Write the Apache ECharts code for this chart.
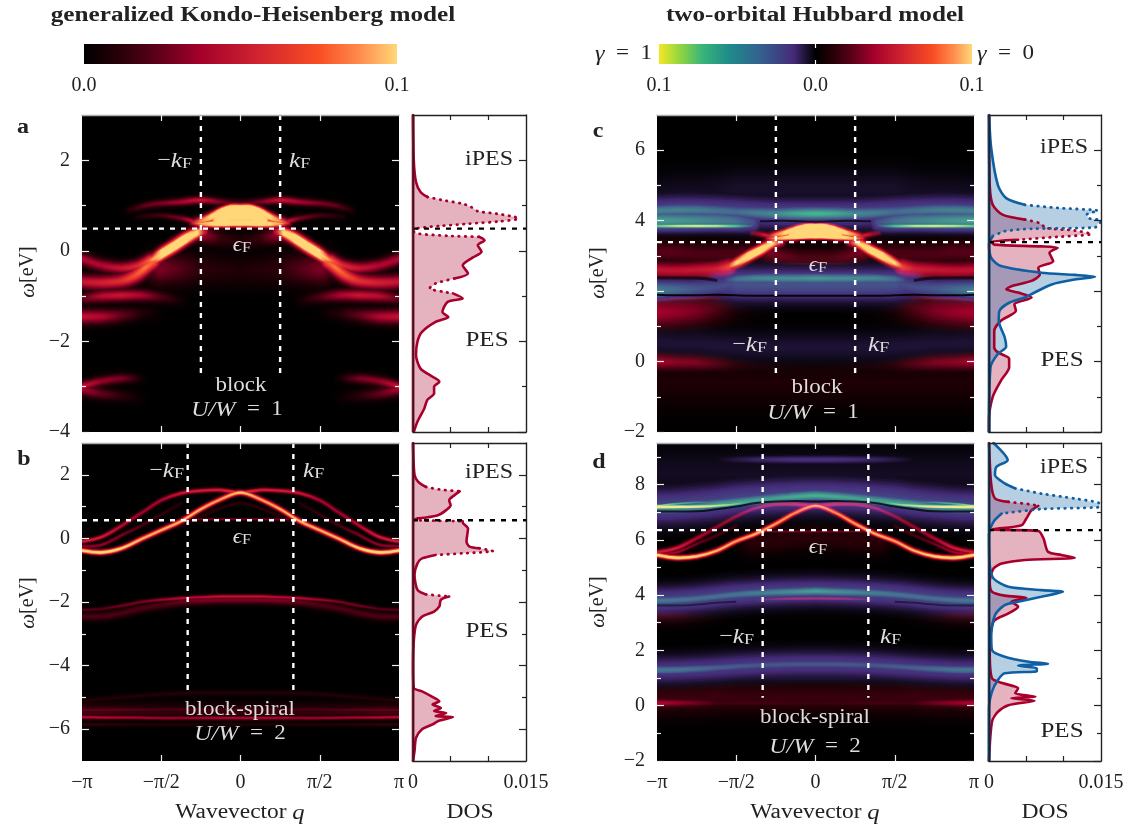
<!DOCTYPE html>
<html>
<head>
<meta charset="utf-8">
<script src="https://cdn.jsdelivr.net/npm/echarts@6/dist/echarts.min.js"></script>
<style>
  html, body { margin: 0; padding: 0; background: #fff; }
  #main { width: 1132px; height: 829px; }
</style>
</head>
<body>
<div id="main"></div>
<script>
  // q is in units of pi, only the left half is listed, bands are mirrored at q=0
  var Q = [-1, -0.875, -0.75, -0.625, -0.5, -0.375, -0.25, -0.125, 0];

  // colour stops, position 0..1 on the colour bar
  var gamma0Stops = [[0, '#000000'], [0.12, '#2a0008'], [0.25, '#64001b'], [0.37, '#a3002b'], [0.55, '#cf2230'], [0.75, '#f94d24'], [0.88, '#ff8b4c'], [1, '#ffd778']];
  var gamma1Stops = [[0, '#000000'], [0.14, '#452a78'], [0.35, '#34608f'], [0.55, '#1f8a8a'], [0.72, '#38b47a'], [0.87, '#93d63f'], [1, '#f5e625']];

  // panel a
  var aBlobUpQ = [-0.3, -0.25, -0.19, -0.125, -0.06, 0], aBlobUpW = [0.63, 0.66, 0.74, 0.85, 0.93, 0.93], aBlobUpI = [0.45, 0.9, 1.3, 1.8, 1.8, 1.8];
  var aBlobLowW = [0.62, 0.6, 0.6, 0.61, 0.62, 0.62], aBlobLowI = [0.55, 0.95, 1.25, 1.7, 1.8, 1.8];
  var aBlobMidQ = [-0.15, -0.125, -0.06, 0], aBlobMidW = [0.69, 0.72, 0.78, 0.78], aBlobMidI = [1.3, 1.8, 1.8, 1.8];
  var aArmQ = [-0.6, -0.55, -0.5, -0.42, -0.34, -0.27, -0.23], aArmW = [-0.25, -0.18, -0.07, 0.1, 0.28, 0.4, 0.42], aArmI = [0.6, 0.95, 1.6, 1.7, 1.6, 1.2, 0.55];
  var aLow1Q = [-1, -0.875, -0.75, -0.67, -0.6, -0.55], aLow1W = [-0.68, -0.7, -0.66, -0.55, -0.37, -0.25], aLow1I = [0.5, 0.55, 0.62, 0.75, 0.85, 0.8];
  var aLow2Q = [-1, -0.875, -0.75, -0.65, -0.57], aLow2W = [-0.18, -0.32, -0.38, -0.33, -0.2], aLow2I = [0.42, 0.42, 0.5, 0.6, 0.8];
  var aTopQ = [-0.7, -0.6, -0.5, -0.375, -0.25, -0.125, 0], aTopW = [0.9, 1, 1.05, 1.08, 1.12, 1.08, 1.05], aTopI = [0.1, 0.25, 0.3, 0.4, 0.5, 0.3, 0.2];
  var aTop2Q = [-0.65, -0.5, -0.375, -0.3], aTop2W = [0.75, 0.78, 0.72, 0.65], aTop2I = [0.08, 0.18, 0.3, 0.5];
  var aM1Q = [-1, -0.875, -0.75, -0.625, -0.5, -0.375], aM1W = [-1.05, -1, -0.98, -0.98, -1.02, -1.1], aM1I = [0.25, 0.45, 0.5, 0.4, 0.2, 0.05];
  var aM2Q = [-1, -0.875, -0.75, -0.625, -0.5], aM2W = [-1.45, -1.45, -1.42, -1.38, -1.35], aM2I = [0.48, 0.42, 0.25, 0.1, 0.02];
  var aB1Q = [-1, -0.875, -0.75, -0.625], aB1W = [-3, -2.88, -2.82, -2.82], aB1I = [0.5, 0.35, 0.3, 0.05];
  var aB2W = [-3.05, -3.15, -3.2, -3.25], aB2I = [0.4, 0.25, 0.12, 0.03];
  var aRipQ = [-0.25, -0.125, 0], aRipW = [0.38, 0.28, 0.2], aRipI = [0.4, 0.15, 0.1];
  var aDiffQ = [-0.5, -0.25, 0], aDiffW = [-0.4, -0.4, -0.45], aDiffI = [0.3, 0.12, 0.08];

  // panel b
  var bMainW = [-0.38, -0.44, -0.31, -0.02, 0.26, 0.54, 0.92, 1.23, 1.44], bMainI = [1.15, 1.2, 1.1, 1, 0.98, 1, 0.98, 0.95, 1.05];
  var bUpW = [-0.1, 0.05, 0.4, 0.8, 1.2, 1.42, 1.5, 1.52, 1.44], bUpI = [0.55, 0.55, 0.45, 0.38, 0.42, 0.52, 0.55, 0.55, 0.7];
  var bMidQ = [-1, -0.875, -0.75, -0.625, -0.5, -0.375], bMidW = [-0.25, -0.2, 0.1, 0.4, 0.75, 1.1], bMidI = [0.35, 0.35, 0.3, 0.2, 0.15, 0.1];
  var bFermiQ = [-0.3, -0.2, -0.1, 0], bFermiW = [0.6, 0.6, 0.6, 0.6], bFermiI = [0.3, 0.3, 0.3, 0.3];
  var bFanQ = [-0.4, -0.2, 0], bFanW = [0.35, 0.8, 1.1], bFanI = [0.1, 0.12, 0.12];
  var bM1W = [-2.25, -2.22, -2.12, -2, -1.93, -1.88, -1.85, -1.83, -1.83], bM1I = [0.22, 0.22, 0.28, 0.3, 0.38, 0.45, 0.45, 0.5, 0.5];
  var bM2W = [-2.45, -2.45, -2.35, -2.2, -2.1, -2, -1.95, -1.93, -1.93], bM2I = [0.2, 0.2, 0.2, 0.2, 0.2, 0.25, 0.3, 0.3, 0.3];
  var bL0W = [-5.1, -5.05, -5, -4.95, -4.9, -4.87, -4.86, -4.86, -4.86], bL0I = [0.1, 0.1, 0.1, 0.1, 0.1, 0.1, 0.1, 0.1, 0.1];
  var bL1W = [-5.4, -5.4, -5.39, -5.39, -5.38, -5.38, -5.38, -5.38, -5.38], bL1I = [0.25, 0.25, 0.25, 0.22, 0.2, 0.2, 0.2, 0.2, 0.2];
  var bL2W = [-5.62, -5.63, -5.63, -5.64, -5.65, -5.65, -5.65, -5.65, -5.65], bL2I = [0.45, 0.45, 0.42, 0.4, 0.38, 0.38, 0.4, 0.42, 0.42];
  var bL3W = [-5.45, -5.45, -5.45, -5.45, -5.45, -5.45, -5.45, -5.45, -5.45], bL3I = [0.18, 0.18, 0.16, 0.15, 0.14, 0.14, 0.14, 0.14, 0.14];
  var bL4W = [-5.85, -5.85, -5.85, -5.85, -5.85, -5.85, -5.85, -5.85, -5.85], bL4I = [0.14, 0.14, 0.12, 0.1, 0.1, 0.1, 0.1, 0.1, 0.1];

  // panel c, negative intensity is gamma=1 weight
  var cR0W = [-0.6, -0.6, -0.6, -0.6, -0.6, -0.6, -0.6, -0.6, -0.6], cR0I = [0.08, 0.08, 0.08, 0.08, 0.08, 0.08, 0.08, 0.08, 0.08];
  var cR1Q = [-1, -0.875, -0.75, -0.625, -0.5, -0.375, -0.25, 0], cR1W = [0, -0.02, -0.03, -0.06, -0.1, -0.15, -0.2, -0.25], cR1I = [0.38, 0.32, 0.3, 0.22, 0.12, 0.08, 0.07, 0.06];
  var cP0W = [0.55, 0.5, 0.5, 0.45, 0.42, 0.4, 0.4, 0.4, 0.4], cP0I = [-0.06, -0.06, -0.06, -0.06, -0.06, -0.06, -0.06, -0.06, -0.06];
  var cR2Q = [-1, -0.875, -0.75, -0.625, -0.5, -0.375], cR2W = [1.4, 1.42, 1.45, 1.5, 1.55, 1.6], cR2I = [0.38, 0.35, 0.3, 0.2, 0.08, 0.03];
  var cR3Q = [-1, -0.875, -0.75, -0.625, -0.5], cR3W = [1.72, 1.78, 1.8, 1.8, 1.78], cR3I = [0.3, 0.3, 0.3, 0.22, 0.1];
  var cB1Q = [-1, -0.875, -0.75, -0.625, -0.55], cB1W = [2.03, 2.05, 2.07, 2.12, 2.18], cB1I = [-0.5, -0.4, -0.32, -0.28, -0.28];
  var cB2Q = [-0.6, -0.5, -0.375, -0.25, -0.125, 0], cB2W = [2.2, 2.2, 2.2, 2.2, 2.2, 2.2], cB2I = [-0.2, -0.3, -0.3, -0.3, -0.3, -0.3];
  var cB3Q = [-0.55, -0.5, -0.375, -0.25, -0.125, 0], cB3W = [2.32, 2.34, 2.36, 2.36, 2.36, 2.36], cB3I = [-0.3, -0.45, -0.55, -0.58, -0.58, -0.62];
  var cRed26Q = [-1, -0.875, -0.75, -0.625, -0.55], cRed26W = [2.6, 2.58, 2.6, 2.62, 2.68], cRed26I = [0.48, 0.48, 0.5, 0.55, 0.7];
  var cDarkQ = [-1, -0.875, -0.75, -0.625, -0.5, -0.4], cDarkW = [3.1, 3.1, 3.05, 3.05, 3.05, 3.1], cDarkI = [0.22, 0.22, 0.2, 0.2, 0.2, 0.2];
  var cRipQ = [-0.3, -0.2, -0.1, 0], cRipW = [3.1, 3, 2.95, 2.95], cRipI = [0.3, 0.25, 0.2, 0.2];
  var cLineQ = [-0.3, -0.15, 0], cLineW = [2.78, 2.78, 2.78], cLineI = [0.1, 0.2, 0.25];
  var cArmQ = [-0.55, -0.5, -0.42, -0.34, -0.27, -0.22], cArmW = [2.7, 2.8, 3, 3.18, 3.35, 3.38], cArmI = [0.7, 1.1, 1.6, 1.5, 1.1, 0.55];
  var cHazeW = [4.7, 4.8, 4.8, 4.85, 4.9, 4.9, 4.9, 4.9, 4.9], cHazeI = [-0.04, -0.04, -0.04, -0.04, -0.05, -0.05, -0.05, -0.05, -0.05];
  var cT1W = [4.28, 4.3, 4.3, 4.28, 4.25, 4.22, 4.2, 4.2, 4.2], cT1I = [-0.52, -0.52, -0.5, -0.45, -0.42, -0.5, -0.55, -0.68, -0.75];
  var cT1WideI = [-0.25, -0.25, -0.25, -0.25, -0.25, -0.25, -0.25, -0.25, -0.25];
  var cT2Q = [-1, -0.875, -0.75, -0.625, -0.5, -0.4], cT2W = [4, 4, 4, 4, 3.98, 3.95], cT2I = [-0.65, -0.62, -0.58, -0.52, -0.45, -0.3];
  var cYelW = [3.85, 3.85, 3.85, 3.85, 3.85, 3.86], cYelI = [-0.85, -1, -1.05, -1, -0.8, -0.35];
  var cBlobUpW = [3.56, 3.6, 3.66, 3.74, 3.82, 3.82], cBlobLowW = [3.5, 3.5, 3.52, 3.55, 3.57, 3.57], cBlobMidW = [3.6, 3.63, 3.69, 3.7];
  var cWingQ = [-0.4, -0.33, -0.26], cWingW = [3.65, 3.6, 3.52], cWingI = [0.3, 0.5, 0.6];
  // black gaps between orbital weights
  var cGap1W = [1.9, 1.88, 1.88, 1.9, 1.88, 1.87, 1.87, 1.87, 1.87];
  var cGap2Q = [-1, -0.875, -0.75, -0.62], cGap2W = [2.38, 2.38, 2.37, 2.3];
  var cGap3Q = [-0.35, -0.2, 0], cGap3W = [3.98, 4, 3.97];

  // panel d
  var dHazeW = [8.4, 8.4, 8.4, 8.4, 8.4, 8.4, 8.4, 8.4, 8.4], dHazeI = [-0.04, -0.04, -0.04, -0.04, -0.04, -0.04, -0.04, -0.04, -0.04];
  var dP1Q = [-0.625, -0.5, -0.375, -0.25, -0.125, 0], dP1W = [8.9, 8.9, 8.9, 8.9, 8.9, 8.9], dP1I = [-0.03, -0.08, -0.12, -0.14, -0.16, -0.16];
  var dTealWideW = [7.2, 7.22, 7.28, 7.35, 7.45, 7.5, 7.55, 7.58, 7.6], dTealWideI = [-0.25, -0.25, -0.25, -0.25, -0.25, -0.25, -0.25, -0.25, -0.25];
  var dTealW = [7.1, 7.12, 7.18, 7.28, 7.35, 7.43, 7.5, 7.56, 7.6], dTealI = [-0.45, -0.55, -0.6, -0.65, -0.65, -0.65, -0.65, -0.7, -0.72];
  var dY1Q = [-1, -0.875, -0.75, -0.625, -0.5, -0.4], dY1W = [7.19, 7.19, 7.2, 7.23, 7.3, 7.38], dY1I = [-1.4, -1.3, -1.15, -1, -0.85, -0.6];
  var dY2Q = [-1, -0.875, -0.75, -0.625], dY2W = [7.22, 7.3, 7.35, 7.36], dY2I = [-1, -0.8, -0.6, -0.4];
  var dRedW = [5.55, 5.7, 6.05, 6.45, 6.85, 7.15, 7.28, 7.28, 7.22], dRedI = [0.55, 0.55, 0.42, 0.35, 0.38, 0.45, 0.5, 0.55, 0.7];
  var dMidQ = [-1, -0.875, -0.75, -0.625, -0.5], dMidW = [5.5, 5.55, 5.85, 6.15, 6.5], dMidI = [0.4, 0.4, 0.28, 0.2, 0.15];
  var dMainW = [5.45, 5.35, 5.4, 5.6, 5.95, 6.22, 6.58, 6.98, 7.23], dMainI = [1.15, 1.2, 1.1, 1, 0.95, 1, 0.95, 0.92, 1];
  var dFanQ = [-0.4, -0.2, 0], dFanW = [5.9, 6, 6.1], dFanI = [0.12, 0.12, 0.12];
  var dFermiQ = [-0.3, -0.15, 0], dFermiW = [6.3, 6.3, 6.3], dFermiI = [0.3, 0.3, 0.3];
  var dT4W = [3.8, 3.82, 3.87, 3.95, 4.02, 4.07, 4.1, 4.12, 4.14], dT4WideI = [-0.25, -0.25, -0.25, -0.25, -0.25, -0.25, -0.25, -0.25, -0.25], dT4I = [-0.48, -0.46, -0.44, -0.44, -0.46, -0.5, -0.55, -0.6, -0.66];
  var dRed38Q = [-0.45, -0.3, -0.15, 0], dRed38W = [3.76, 3.84, 3.87, 3.88], dRed38I = [0.1, 0.3, 0.4, 0.4];
  var dRed34W = [3.35, 3.35, 3.38, 3.42, 3.5, 3.5, 3.5, 3.5, 3.5], dRed34I = [0.2, 0.18, 0.12, 0.06, 0.03, 0.02, 0.02, 0.02, 0.02];
  var dP2W = [1.29, 1.3, 1.33, 1.37, 1.42, 1.46, 1.48, 1.5, 1.5], dP2WideI = [-0.2, -0.2, -0.2, -0.2, -0.2, -0.2, -0.2, -0.2, -0.2], dP2I = [-0.48, -0.46, -0.42, -0.36, -0.34, -0.32, -0.32, -0.32, -0.32];
  var dP4W = [1, 1, 1, 1, 1.05, 1.05, 1.05, 1.05, 1.05], dP4I = [-0.07, -0.07, -0.07, -0.07, -0.07, -0.07, -0.07, -0.07, -0.07];
  var dR0W = [0.2, 0.25, 0.25, 0.3, 0.3, 0.3, 0.3, 0.3, 0.3], dR0I = [0.16, 0.16, 0.16, 0.16, 0.15, 0.15, 0.15, 0.15, 0.15];
  var dR1Q = [-1, -0.875, -0.75, -0.625, -0.5, -0.375, -0.25, 0], dR1W = [0.1, 0.1, 0.1, 0.1, 0.1, 0.1, 0.1, 0.1], dR1I = [0.42, 0.35, 0.28, 0.18, 0.18, 0.18, 0.18, 0.16];
  var dGap1W = [7.02, 7.02, 7.03, 7.1, 7.2, 7.33, 7.38, 7.4, 7.38];
  var dGap2Q = [-1, -0.875, -0.75, -0.625, -0.5], dGap2W = [3.62, 3.62, 3.66, 3.72, 3.76];

  // DOS curves
  var dosAW = [3, 2, 1.52, 1.3, 1.19, 1.12, 1.04, 0.97, 0.875, 0.82, 0.75, 0.71, 0.65, 0.6, 0.55, 0.49, 0.43, 0.38, 0.33, 0.31, 0.235, 0.125, -0.02, -0.15, -0.32, -0.5, -0.61, -0.72, -0.83, -0.9, -0.94, -1.05, -1.125, -1.35, -1.46, -1.57, -1.79, -2, -2.3, -2.6, -2.78, -2.89, -3, -3.15, -3.29, -3.48, -3.77, -4];
  var dosAD = [0, 0.0001, 0.0004, 0.001, 0.0019, 0.0039, 0.0066, 0.0077, 0.0086, 0.0111, 0.0135, 0.014, 0.0115, 0.0075, 0.0035, 0.0004, 0.0001, 0.0006, 0.0048, 0.0088, 0.0095, 0.0086, 0.0091, 0.0079, 0.0066, 0.0073, 0.0055, 0.003, 0.0022, 0.0039, 0.0053, 0.0066, 0.0046, 0.0039, 0.0047, 0.003, 0.0012, 0.0006, 0.0004, 0.001, 0.0026, 0.0035, 0.0028, 0.0028, 0.0019, 0.0015, 0.0006, 0.0001];
  var dosBW = [3, 2, 1.78, 1.62, 1.54, 1.48, 1.36, 1.2, 1.04, 0.89, 0.73, 0.65, 0.63, 0.57, 0.54, 0.5, 0.31, -0.1, -0.26, -0.31, -0.4, -0.47, -0.52, -0.63, -0.78, -1.15, -1.62, -1.76, -1.8, -1.83, -1.93, -2.14, -2.3, -2.46, -2.72, -3.24, -3.97, -4.7, -4.81, -4.96, -5.12, -5.22, -5.33, -5.43, -5.49, -5.59, -5.62, -5.75, -5.85, -6, -6.27, -6.69, -7];
  var dosBD = [0, 0.0002, 0.0007, 0.0017, 0.0035, 0.0062, 0.0055, 0.0048, 0.005, 0.0044, 0.0033, 0.0015, 0.0006, 0.0001, 0.0066, 0.0066, 0.0073, 0.0071, 0.0075, 0.0088, 0.0106, 0.0066, 0.003, 0.0012, 0.0006, 0.0002, 0.0006, 0.0017, 0.0035, 0.0048, 0.0037, 0.0035, 0.0028, 0.0012, 0.0004, 0.0001, 0, 0.0001, 0.0012, 0.0024, 0.0035, 0.0026, 0.0037, 0.0028, 0.0044, 0.003, 0.0053, 0.0033, 0.0026, 0.0012, 0.0004, 0.0002, 0];
  var dosCRedW = [7, 5, 4.45, 4.17, 4.03, 3.93, 3.79, 3.72, 3.62, 3.54, 3.46, 3.4, 3.32, 3.27, 3.23, 3.09, 2.85, 2.66, 2.47, 2.29, 2.14, 2.05, 1.96, 1.82, 1.63, 1.44, 1.16, 0.87, 0.4, 0.26, 0.08, -0.16, -0.54, -1, -1.67, -2];
  var dosCRedD = [0, 0.0001, 0.0005, 0.0018, 0.0048, 0.0068, 0.0077, 0.0115, 0.0137, 0.0092, 0.0039, 0.0003, 0.0007, 0.007, 0.0092, 0.0081, 0.0086, 0.0066, 0.0068, 0.0057, 0.003, 0.0023, 0.0039, 0.0057, 0.0034, 0.0036, 0.0016, 0.0007, 0.0007, 0.0012, 0.0027, 0.0027, 0.0016, 0.0005, 0, 0];
  var dosCBlueW = [7, 6.05, 5, 4.64, 4.45, 4.36, 4.28, 4.17, 4.07, 4, 3.81, 3.77, 3.7, 3.56, 3.32, 2.94, 2.71, 2.52, 2.46, 2.41, 2.33, 2.19, 1.96, 1.82, 1.67, 1.44, 1.16, 0.69, 0.42, 0.22, -0.16, -2];
  var dosCBlueD = [0, 0.0003, 0.0012, 0.0023, 0.0048, 0.0092, 0.0146, 0.0131, 0.0133, 0.015, 0.0142, 0.0057, 0.0021, 0.0005, 0, 0.0003, 0.0016, 0.007, 0.0115, 0.0142, 0.0115, 0.0084, 0.0061, 0.0048, 0.0027, 0.0014, 0.0013, 0.0021, 0.0023, 0.0012, 0.0002, 0];
  var dosDRedW = [9.5, 8, 7.5, 7.37, 7.29, 7.23, 7.07, 6.77, 6.53, 6.43, 6.37, 6.32, 6.05, 5.57, 5.45, 5.35, 5.27, 5.14, 4.96, 4.48, 4.12, 3.98, 3.9, 3.76, 3.58, 3.34, 3.04, 1.95, 0.99, 0.81, 0.63, 0.45, 0.33, 0.27, 0.18, 0.02, -0.22, -0.58, -2];
  var dosDRedD = [0, 0.0003, 0.0008, 0.0026, 0.0053, 0.0066, 0.0057, 0.005, 0.0044, 0.0021, 0.0001, 0.0066, 0.0073, 0.0079, 0.0097, 0.0115, 0.0048, 0.0017, 0.0006, 0.0001, 0.0004, 0.0021, 0.005, 0.003, 0.0039, 0.0026, 0.0006, 0.0001, 0.0004, 0.0019, 0.0039, 0.0035, 0.0062, 0.003, 0.0061, 0.0026, 0.0012, 0.0004, 0];
  var dosDBlueW = [9.5, 8.88, 8.64, 8.34, 8.04, 7.86, 7.67, 7.49, 7.31, 7.19, 7.11, 6.95, 6.65, 6.17, 5.08, 4.6, 4.3, 4.18, 4.12, 3.94, 3.76, 3.64, 3.28, 2.55, 2.01, 1.77, 1.59, 1.52, 1.45, 1.35, 1.25, 1.17, 0.93, 0.51, -0.1, -2];
  var dosDBlueD = [0.0006, 0.0025, 0.001, 0.0008, 0.0021, 0.0035, 0.007, 0.0115, 0.0148, 0.0148, 0.007, 0.0017, 0.0006, 0, 0.0001, 0.0006, 0.0026, 0.007, 0.0099, 0.007, 0.0039, 0.0021, 0.0008, 0.0003, 0.0004, 0.0021, 0.0053, 0.0079, 0.0039, 0.0064, 0.0064, 0.0021, 0.0012, 0.0004, 0, 0];

  // tick labels
  var qTicks = [-0.5, 0, 0.5];
  var qLabels = [-1, -0.5, 0, 0.5, 1];
  var qNames = { '-1': '−π', '-0.5': '−π/2', '0': '0', '0.5': 'π/2', '1': 'π' };
  var dosTicks = [0.005, 0.01];
  var dosLabels = [0, 0.015];

  var RED = '#a8002d', BLUE = '#0f5fa3', NAVY = '#0b3f78';
  var SERIF = '"Liberation Serif", "DejaVu Serif", serif';
  var GLOW_STEPS = 14;

  // [q, omega, intensity, width px]
  var panels = [
    {
      name: 'a', left: 82, top: 115, h: 317, dosLeft: 413, dosW: 113, wMin: -4, wMax: 3,
      major: [-4, -2, 0, 2], minor: [-3, -1, 1], kF: 0.25, kEnd: -2.76, ef: 0.49,
      bands: [
        [aDiffQ, aDiffW, aDiffI, 26], [aM2Q, aM2W, aM2I, 12], [aM1Q, aM1W, aM1I, 10], [aB1Q, aB2W, aB2I, 10], [aB1Q, aB1W, aB1I, 8],
        [aRipQ, aRipW, aRipI, 14], [aTopQ, aTopW, aTopI, 6], [aTop2Q, aTop2W, aTop2I, 5],
        [aLow2Q, aLow2W, aLow2I, 10], [aLow1Q, aLow1W, aLow1I, 12], [aArmQ, aArmW, aArmI, 9],
        [aBlobUpQ, aBlobUpW, aBlobUpI, 7], [aBlobUpQ, aBlobLowW, aBlobLowI, 6], [aBlobMidQ, aBlobMidW, aBlobMidI, 10]
      ],
      gaps: [],
      dos: [{ w: dosAW, d: dosAD, color: RED, fill: 'rgba(168,0,45,0.3)', dots: [[0.31, 1.19], [-0.94, -0.61]] }],
      base: RED
    },
    {
      name: 'b', left: 82, top: 443, h: 318, dosLeft: 413, dosW: 113, wMin: -7, wMax: 3,
      major: [-6, -4, -2, 0, 2], minor: [-5, -3, -1, 1], kF: 1 / 3, kEnd: -4.87, ef: 0.57,
      bands: [
        [Q, bL3W, bL3I, 14], [Q, bL0W, bL0I, 4], [Q, bL4W, bL4I, 3], [Q, bL1W, bL1I, 3], [Q, bL2W, bL2I, 3],
        [Q, bM2W, bM2I, 7], [Q, bM1W, bM1I, 3],
        [bFanQ, bFanW, bFanI, 3], [bFermiQ, bFermiW, bFermiI, 2], [bMidQ, bMidW, bMidI, 3], [Q, bUpW, bUpI, 3.5], [Q, bMainW, bMainI, 4]
      ],
      gaps: [],
      dos: [{ w: dosBW, d: dosBD, color: RED, fill: 'rgba(168,0,45,0.3)', dots: [[1.48, 1.62], [0.54, 0.57], [-0.52, -0.31], [-1.83, -1.76]] }],
      base: RED
    },
    {
      name: 'c', left: 657, top: 115, h: 317, dosLeft: 989, dosW: 112, wMin: -2, wMax: 7,
      major: [-2, 0, 2, 4, 6], minor: [-1, 1, 3, 5], kF: 0.25, kEnd: -0.48, ef: 3.39,
      bands: [
        [Q, cR0W, cR0I, 40], [cR1Q, cR1W, cR1I, 14], [Q, cP0W, cP0I, 24], [cR2Q, cR2W, cR2I, 26], [cR3Q, cR3W, cR3I, 5],
        [cB2Q, cB2W, cB2I, 24], [cB1Q, cB1W, cB1I, 14], [cB3Q, cB3W, cB3I, 8],
        [cDarkQ, cDarkW, cDarkI, 20], [cRipQ, cRipW, cRipI, 16], [cRed26Q, cRed26W, cRed26I, 14], [cLineQ, cLineW, cLineI, 2], [cArmQ, cArmW, cArmI, 8],
        [Q, cHazeW, cHazeI, 30], [Q, cT1W, cT1WideI, 22], [Q, cT1W, cT1I, 10], [cT2Q, cT2W, cT2I, 14], [cT2Q, cYelW, cYelI, 3.5],
        [cWingQ, cWingW, cWingI, 5], [aBlobUpQ, cBlobUpW, aBlobUpI, 6], [aBlobUpQ, cBlobLowW, aBlobLowI, 5], [aBlobMidQ, cBlobMidW, aBlobMidI, 9]
      ],
      gaps: [[Q, cGap1W, 2, 0.9], [cGap2Q, cGap2W, 3, 0.6], [cGap3Q, cGap3W, 2, 0.7]],
      dos: [
        { w: dosCRedW, d: dosCRedD, color: RED, fill: 'rgba(168,0,45,0.3)', dots: [[3.46, 4.03]] },
        { w: dosCBlueW, d: dosCBlueD, color: BLUE, fill: 'rgba(15,95,163,0.3)', dots: [[3.56, 4.45]] }
      ],
      base: NAVY
    },
    {
      name: 'd', left: 657, top: 443, h: 318, dosLeft: 989, dosW: 112, wMin: -2, wMax: 9.5,
      major: [-2, 0, 2, 4, 6, 8], minor: [-1, 1, 3, 5, 7, 9], kF: 1 / 3, kEnd: 0.29, ef: 6.35,
      bands: [
        [Q, dHazeW, dHazeI, 40], [dP1Q, dP1W, dP1I, 6], [Q, dTealWideW, dTealWideI, 26], [Q, dTealW, dTealI, 8],
        [dFanQ, dFanW, dFanI, 20], [dFermiQ, dFermiW, dFermiI, 2], [dMidQ, dMidW, dMidI, 3], [Q, dRedW, dRedI, 4], [Q, dMainW, dMainI, 4],
        [dY2Q, dY2W, dY2I, 2], [dY1Q, dY1W, dY1I, 3.5],
        [Q, dRed34W, dRed34I, 16], [Q, dT4W, dT4WideI, 20], [Q, dT4W, dT4I, 7], [dRed38Q, dRed38W, dRed38I, 3],
        [Q, dP4W, dP4I, 10], [Q, dP2W, dP2WideI, 20], [Q, dP2W, dP2I, 7], [Q, dR0W, dR0I, 26], [dR1Q, dR1W, dR1I, 7]
      ],
      gaps: [[Q, dGap1W, 2, 0.75], [dGap2Q, dGap2W, 2, 0.45]],
      dos: [
        { w: dosDRedW, d: dosDRedD, color: RED, fill: 'rgba(168,0,45,0.3)', dots: [[7.23, 7.37]] },
        { w: dosDBlueW, d: dosDBlueD, color: BLUE, fill: 'rgba(15,95,163,0.3)', dots: [[6.95, 7.86]] }
      ],
      base: NAVY
    }
  ];

  function hexRgb(h) {
    return [parseInt(h.substr(1, 2), 16), parseInt(h.substr(3, 2), 16), parseInt(h.substr(5, 2), 16)];
  }
  // intensity to colour, sign picks the orbital
  function cmap(v) {
    var stops = v < 0 ? gamma1Stops : gamma0Stops;
    var t = Math.min(1, Math.abs(v));
    var i = 0;
    while (i < stops.length - 2 && t > stops[i + 1][0]) i++;
    var f = (t - stops[i][0]) / (stops[i + 1][0] - stops[i][0]);
    var a = hexRgb(stops[i][1]), b = hexRgb(stops[i + 1][1]);
    return 'rgb(' + Math.round(a[0] + (b[0] - a[0]) * f) + ',' + Math.round(a[1] + (b[1] - a[1]) * f) + ',' + Math.round(a[2] + (b[2] - a[2]) * f) + ')';
  }

  // left half + mirrored right half, one path if the band reaches q=0
  function mirrored(q, w, v) {
    var pts = [];
    var i;
    for (i = 0; i < q.length; i++) pts.push([q[i], w[i], v ? v[i] : 0]);
    if (q[q.length - 1] !== 0) pts.push([NaN, NaN, NaN]);
    for (i = q.length - 1; i >= 0; i--) {
      if (q[i] !== 0) pts.push([-q[i], w[i], v ? v[i] : 0]);
    }
    return pts;
  }

  var grids = [], xAxes = [], yAxes = [], series = [], graphics = [];

  function addGrid(left, top, width, height, bg) {
    grids.push({ show: !!bg, left: left, top: top, width: width, height: height, backgroundColor: bg || 'transparent', borderWidth: 0 });
    return grids.length - 1;
  }
  function addX(o) { xAxes.push(o); return xAxes.length - 1; }
  function addY(o) { yAxes.push(o); return yAxes.length - 1; }

  function yAxis(g, p, position, ticks, len, color, labels, line) {
    return addY({
      gridIndex: g, type: 'value', min: p.wMin, max: p.wMax, position: position, z: 50, splitLine: { show: false },
      axisLine: { show: !!line, onZero: false, lineStyle: { color: line || '#000', width: 1.4 } },
      axisTick: { show: true, inside: true, length: len, customValues: ticks, lineStyle: { color: color, width: 1.2 } },
      axisLabel: labels ? {
        show: true, customValues: labels, margin: 12, fontFamily: SERIF, fontSize: 20, color: '#222',
        formatter: function (v) { return String(v).replace('-', '−'); }
      } : { show: false }
    });
  }

  function xAxis(g, min, max, position, ticks, len, color, labels, names, line) {
    return addX({
      gridIndex: g, type: 'value', min: min, max: max, position: position, z: 50, splitLine: { show: false },
      axisLine: { show: !!line, onZero: false, lineStyle: { color: line || '#000', width: 1.4 } },
      axisTick: { show: ticks.length > 0, inside: true, length: len, customValues: ticks, lineStyle: { color: color, width: 1.2 } },
      axisLabel: labels ? {
        show: true, customValues: labels, margin: 12, fontFamily: SERIF, fontSize: 20, color: '#222', hideOverlap: false,
        formatter: function (v) { return names ? names[String(v)] : String(v); }
      } : { show: false }
    });
  }

  function guide(xi, yi, a, b, color, width) {
    series.push({
      type: 'line', xAxisIndex: xi, yAxisIndex: yi, data: [a, b], showSymbol: false, silent: true, z: 20, animation: false,
      lineStyle: { color: color, width: width, type: [5, 6] }
    });
  }

  // every band is stroked many times, wide and dark first, narrow and bright last
  function bandGroup(b, api) {
    var pts = mirrored(b[0], b[1], b[2]);
    var qMin = b[0][0];
    var x1 = api.coord([qMin, 0])[0], x2 = api.coord([-qMin, 0])[0];
    var runs = [[]];
    pts.forEach(function (pt) {
      if (isNaN(pt[0])) runs.push([]);
      else runs[runs.length - 1].push(api.coord([pt[0], pt[1]]));
    });
    var children = [];
    for (var k = 0; k < GLOW_STEPS; k++) {
      var t = 1 - k / GLOW_STEPS;
      var gain = Math.exp(-3.5 * t * t);
      var stops = [];
      pts.forEach(function (pt) {
        if (!isNaN(pt[0])) stops.push({ offset: (pt[0] - qMin) / (-2 * qMin), color: cmap(pt[2] * gain) });
      });
      runs.forEach(function (run) {
        children.push({
          type: 'polyline',
          shape: { points: run, smooth: 0.35 },
          style: {
            fill: null, stroke: { type: 'linear', x: x1, y: 0, x2: x2, y2: 0, global: true, colorStops: stops },
            lineWidth: b[3] * 2.4 * t, lineCap: 'round', lineJoin: 'round'
          }
        });
      });
    }
    return { type: 'group', children: children };
  }

  function addDosFill(xi, yi, c) {
    series.push({
      type: 'custom', xAxisIndex: xi, yAxisIndex: yi, silent: true, z: 4, animation: false, clip: true,
      data: [[0, 0]],
      renderItem: function (params, api) {
        var points = [api.coord([0, c.w[0]])];
        c.w.forEach(function (w, i) { points.push(api.coord([c.d[i], w])); });
        points.push(api.coord([0, c.w[c.w.length - 1]]));
        return { type: 'polygon', shape: { points: points }, style: { fill: c.fill } };
      }
    });
  }

  // the measured curve turns into separate dots on the steep stretches
  function addDosLine(xi, yi, c) {
    var solid = [], dotted = [];
    var last = null;
    for (var i = 0; i + 1 < c.w.length; i++) {
      var dot = c.dots.some(function (r) {
        return c.w[i] <= r[1] + 1e-6 && c.w[i] >= r[0] - 1e-6 && c.w[i + 1] <= r[1] + 1e-6 && c.w[i + 1] >= r[0] - 1e-6;
      });
      var list = dot ? dotted : solid;
      if (last !== list) {
        list.push([NaN, NaN], [c.d[i], c.w[i]]);
        last = list;
      }
      list.push([c.d[i + 1], c.w[i + 1]]);
    }
    series.push({
      type: 'line', xAxisIndex: xi, yAxisIndex: yi, data: solid, showSymbol: false, silent: true, z: 12, animation: false,
      smooth: 0.25, lineStyle: { color: c.color, width: 2.6, cap: 'round' }
    });
    series.push({
      type: 'line', xAxisIndex: xi, yAxisIndex: yi, data: dotted, showSymbol: false, silent: true, z: 12, animation: false,
      smooth: 0.25, lineStyle: { color: c.color, width: 2.8, type: [0.5, 6], cap: 'round' }
    });
  }

  panels.forEach(function (p, idx) {
    var bottom = idx % 2 === 1;
    // heat panel
    var g = addGrid(p.left, p.top, 317, p.h, '#000');
    var xi = xAxis(g, -1, 1, 'bottom', qTicks, 6, '#eee', bottom ? qLabels : null, qNames);
    xAxis(g, -1, 1, 'top', qTicks, 6, '#eee', null, null, '#aaa');
    var yi = yAxis(g, p, 'left', p.major, 7, '#eee', p.major);
    yAxis(g, p, 'left', p.minor, 4, '#eee');
    yAxis(g, p, 'right', p.major, 7, '#eee');
    yAxis(g, p, 'right', p.minor, 4, '#eee');
    series.push({
      type: 'custom', xAxisIndex: xi, yAxisIndex: yi, silent: true, z: 5, animation: false, clip: true,
      blendMode: 'lighten',
      data: p.bands.map(function (b, i) { return [0, i]; }),
      renderItem: function (params, api) { return bandGroup(p.bands[params.dataIndex], api); }
    });
    p.gaps.forEach(function (b) {
      series.push({
        type: 'line', xAxisIndex: xi, yAxisIndex: yi, showSymbol: false, silent: true, smooth: 0.4, z: 6, animation: false,
        data: mirrored(b[0], b[1]).map(function (pt) { return [pt[0], pt[1]]; }),
        lineStyle: { color: 'rgba(0,0,0,' + b[3] + ')', width: b[2] }
      });
    });
    guide(xi, yi, [-p.kF, p.wMax], [-p.kF, p.kEnd], '#fff', 2.4);
    guide(xi, yi, [p.kF, p.wMax], [p.kF, p.kEnd], '#fff', 2.4);
    guide(xi, yi, [-1, p.ef], [1, p.ef], '#fff', 2.4);

    // DOS panel
    var gd = addGrid(p.dosLeft, p.top, p.dosW, p.h);
    var xd = xAxis(gd, 0, 0.015, 'bottom', dosTicks, 5, '#222', bottom ? dosLabels : null, null, '#222');
    xAxis(gd, 0, 0.015, 'top', dosTicks, 5, '#222', null, null, '#222');
    var yd = yAxis(gd, p, 'left', [], 0, '#222', null, '#222');
    yAxis(gd, p, 'right', p.major, 7, '#222', null, '#222');
    yAxis(gd, p, 'right', p.minor, 4, '#222');
    p.dos.forEach(function (c) { addDosFill(xd, yd, c); });
    p.dos.forEach(function (c) { addDosLine(xd, yd, c); });
    series.push({
      type: 'line', xAxisIndex: xd, yAxisIndex: yd, data: [[0, p.wMin], [0, p.wMax]], showSymbol: false, silent: true, z: 13, animation: false,
      lineStyle: { color: p.base, width: 2.6 }
    });
    guide(xd, yd, [0, p.ef], [0.015, p.ef], '#000', 2.4);
  });

  // colour bars
  var cbStopsL = gamma0Stops.map(function (s) { return { offset: s[0], color: s[1] }; });
  var cbStopsR = gamma1Stops.map(function (s) { return { offset: 0.5 - 0.5 * s[0], color: s[1] }; }).reverse()
    .concat(gamma0Stops.map(function (s) { return { offset: 0.5 + 0.5 * s[0], color: s[1] }; }));
  var cbL = addGrid(84, 44, 313, 20, { type: 'linear', x: 0, y: 0, x2: 1, y2: 0, colorStops: cbStopsL });
  var cbR = addGrid(659, 44, 313, 20, { type: 'linear', x: 0, y: 0, x2: 1, y2: 0, colorStops: cbStopsR });
  var cbNames = { '-0.1': '0.1', '0': '0.0', '0.1': '0.1' };
  xAxis(cbL, 0, 0.1, 'bottom', [], 0, '#fff', [0, 0.1], { '0': '0.0', '0.1': '0.1' });
  xAxis(cbR, -0.1, 0.1, 'bottom', [0], 4, '#fff', [-0.1, 0, 0.1], cbNames);
  xAxis(cbR, -0.1, 0.1, 'top', [0], 4, '#fff');
  addY({ gridIndex: cbL, type: 'value', min: 0, max: 1, show: false });
  addY({ gridIndex: cbR, type: 'value', min: 0, max: 1, show: false });

  // text
  var richMath = {
    i: { fontFamily: SERIF, fontStyle: 'italic', fontSize: 21, fill: '#ddd' },
    n: { fontFamily: SERIF, fontSize: 20, fill: '#ddd' },
    s: { fontFamily: SERIF, fontSize: 15, fill: '#ddd', padding: [7, 0, 0, 0] }
  };
  var richDark = {
    i: { fontFamily: SERIF, fontStyle: 'italic', fontSize: 21, fill: '#222' },
    n: { fontFamily: SERIF, fontSize: 20, fill: '#222' }
  };
  function txt(x, y, text, o) {
    o = o || {};
    graphics.push({
      type: 'text', x: x, y: y, rotation: o.rotation || 0, scaleX: o.scaleX || 1, z: 100, silent: true,
      style: {
        text: text, rich: o.rich, fill: o.fill || '#222',
        font: (o.bold ? 'bold ' : '') + (o.size || 20) + 'px ' + (o.family || SERIF),
        align: o.align || 'center', verticalAlign: 'middle'
      }
    });
  }
  var BOLD = { bold: true, size: 20, scaleX: 1.26 };
  txt(253, 16, 'generalized Kondo-Heisenberg model', BOLD);
  txt(815, 16, 'two-orbital Hubbard model', BOLD);
  txt(652, 54, '{i|γ}{n|  =  1}', { rich: richDark, align: 'right', scaleX: 1.15 });
  txt(977, 54, '{i|γ}{n|  =  0}', { rich: richDark, align: 'left', scaleX: 1.15 });
  [['a', 23, 128], ['b', 24, 460], ['c', 598, 132], ['d', 599, 463]].forEach(function (t) {
    txt(t[1], t[2], t[0], { bold: true, size: 20, scaleX: 1.2 });
  });
  [[28, 272], [28, 603], [598, 273], [598, 602]].forEach(function (t) {
    txt(t[0], t[1], '{i|ω}{n|[eV]}', { rich: richDark, rotation: Math.PI / 2 });
  });
  txt(240, 813, '{n|Wavevector }{i|q}', { rich: richDark, scaleX: 1.17 });
  txt(815, 813, '{n|Wavevector }{i|q}', { rich: richDark, scaleX: 1.17 });
  txt(470, 813, 'DOS', { scaleX: 1.18 });
  txt(1045, 813, 'DOS', { scaleX: 1.18 });

  var kF = '{i|k}{s|F}', mkF = '{n|−}{i|k}{s|F}', eF = '{i|ϵ}{s|F}';
  [
    [192, 161, 289, 161, 242, 245, 'block', 241, 386, 1, 237, 410],
    [184, 471, 303, 471, 242, 537, 'block-spiral', 240, 710, 2, 240, 734],
    [767, 345, 868, 345, 818, 265, 'block', 817, 388, 1, 813, 413],
    [754, 637, 880, 637, 818, 547, 'block-spiral', 815, 718, 2, 815, 747]
  ].forEach(function (t) {
    txt(t[0], t[1], mkF, { rich: richMath, align: 'right', scaleX: 1.2 });
    txt(t[2], t[3], kF, { rich: richMath, align: 'left', scaleX: 1.2 });
    txt(t[4], t[5], eF, { rich: richMath, scaleX: 1.1 });
    txt(t[7], t[8], t[6], { fill: '#ddd', scaleX: 1.15 });
    txt(t[10], t[11], '{i|U/W}{n|  =  ' + t[9] + '}', { rich: richMath, scaleX: 1.15 });
  });
  [[489, 160, 487, 341], [489, 473, 487, 632], [1064, 148, 1062, 361], [1064, 468, 1062, 732]].forEach(function (t) {
    txt(t[0], t[1], 'iPES', { scaleX: 1.2 });
    txt(t[2], t[3], 'PES', { scaleX: 1.25 });
  });

  var chart = echarts.init(document.getElementById('main'), null, { renderer: 'canvas' });
  chart.setOption({
    animation: false,
    backgroundColor: '#fff',
    grid: grids,
    xAxis: xAxes,
    yAxis: yAxes,
    series: series,
    graphic: graphics
  });
</script>
</body>
</html>
